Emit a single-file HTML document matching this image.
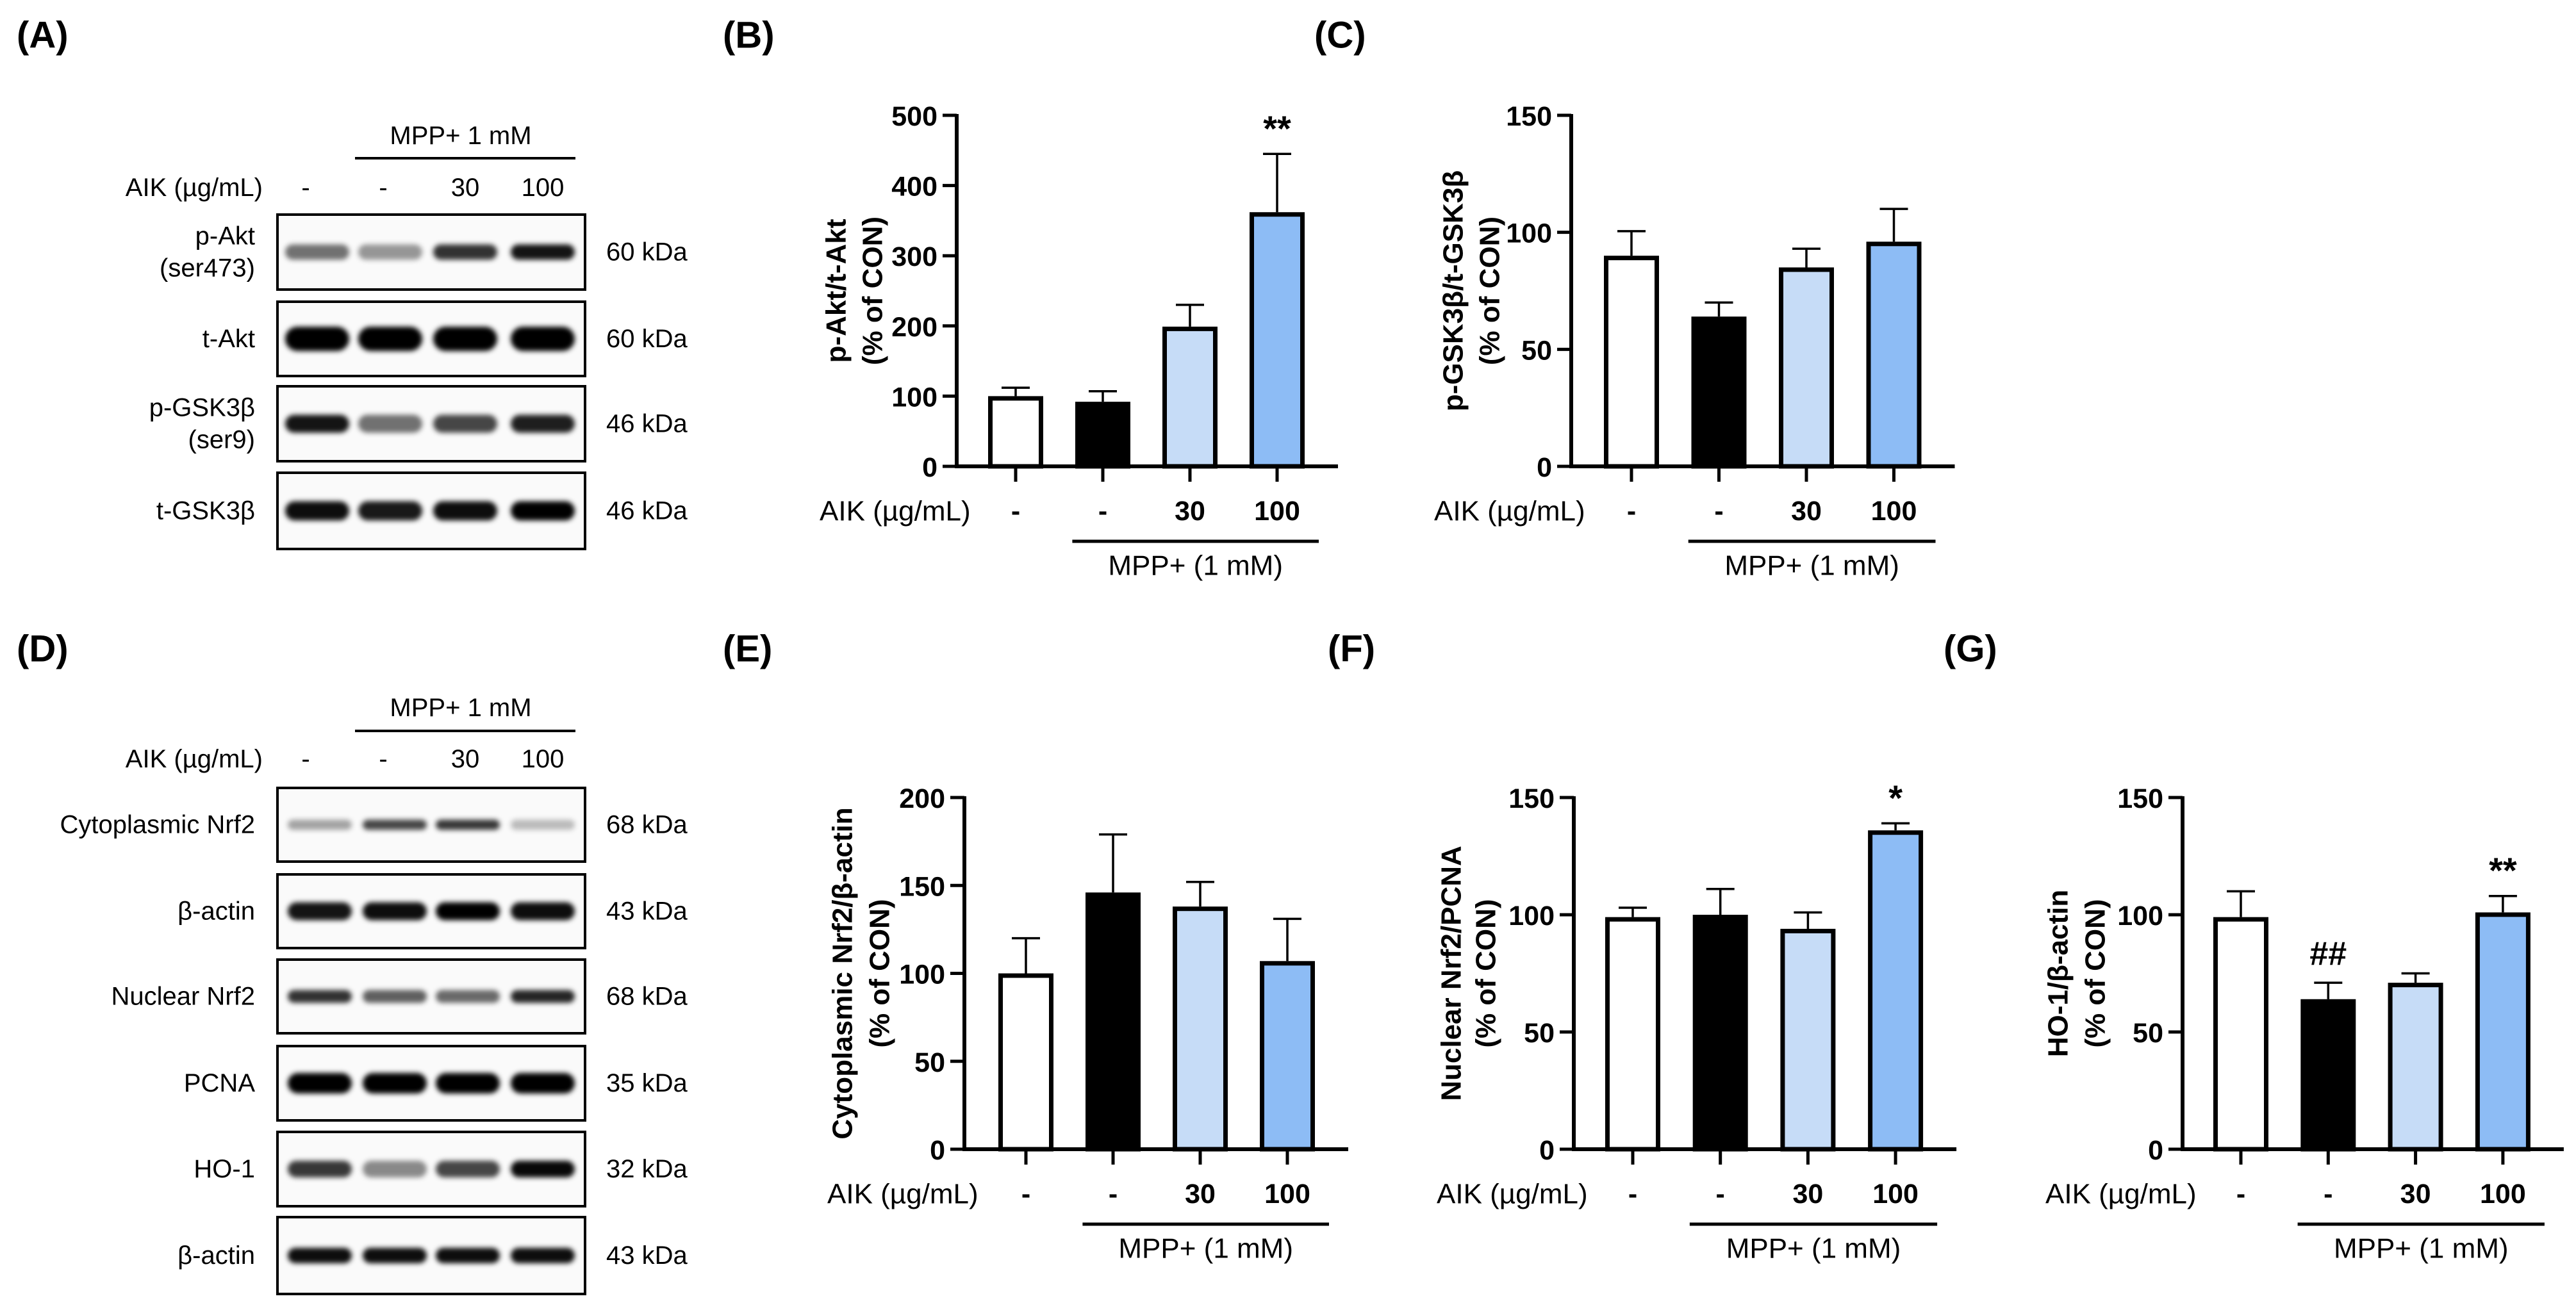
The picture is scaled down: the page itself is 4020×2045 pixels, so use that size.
<!DOCTYPE html>
<html><head><meta charset="utf-8"><style>
html,body{margin:0;padding:0;background:#fff}
svg{display:block}
text{font-family:"Liberation Sans",Arial,sans-serif;fill:#000}
.n{font-family:"Liberation Sans Narrow","Liberation Sans",sans-serif}
</style></head><body>
<svg id="fig" width="4020" height="2045" viewBox="0 0 4020 2045" xmlns="http://www.w3.org/2000/svg">
<defs><filter id="blur" x="-30%" y="-100%" width="160%" height="300%"><feGaussianBlur stdDeviation="4"/></filter></defs>
</svg>
<script>
// ---- data ----
const doseLabels = ['-', '-', '30', '100'];
const bVals = [100, 92, 199, 362];
const bSem = [12, 15, 31, 83];
const bTicks = [0, 100, 200, 300, 400, 500];
const cVals = [90, 64, 85, 96];
const cSem = [10.5, 6, 8, 14];
const cTicks = [0, 50, 100, 150];
const eVals = [100, 146, 138, 107];
const eSem = [20, 33, 14, 24];
const eTicks = [0, 50, 100, 150, 200];
const fVals = [99, 100, 94, 136];
const fSem = [4, 11, 7, 3];
const fTicks = [0, 50, 100, 150];
const gVals = [99, 64, 71, 101];
const gSem = [11, 7, 4, 7];
const gTicks = [0, 50, 100, 150];
const bSig = ['', '', '', '**'];
const cSig = ['', '', '', ''];
const eSig = ['', '', '', ''];
const fSig = ['', '', '', '*'];
const gSig = ['', '##', '', '**'];
// blot band intensities (0..1)
const blotA = [
  {label:['p-Akt','(ser473)'], kda:'60 kDa', inten:[0.55,0.4,0.8,0.92], h:24},
  {label:['t-Akt'], kda:'60 kDa', inten:[1,1,1,1], h:38},
  {label:['p-GSK3β','(ser9)'], kda:'46 kDa', inten:[0.92,0.55,0.72,0.88], h:28},
  {label:['t-GSK3β'], kda:'46 kDa', inten:[0.95,0.9,0.95,1], h:30}
];
const blotD = [
  {label:['Cytoplasmic Nrf2'], kda:'68 kDa', inten:[0.35,0.72,0.78,0.25], h:16},
  {label:['β-actin'], kda:'43 kDa', inten:[0.92,0.95,1,0.95], h:28},
  {label:['Nuclear Nrf2'], kda:'68 kDa', inten:[0.8,0.62,0.58,0.85], h:20},
  {label:['PCNA'], kda:'35 kDa', inten:[1,1,1,1], h:32},
  {label:['HO-1'], kda:'32 kDa', inten:[0.78,0.45,0.72,0.97], h:26},
  {label:['β-actin'], kda:'43 kDa', inten:[0.95,0.95,0.95,0.95], h:24}
];

const NS = 'http://www.w3.org/2000/svg';
const svg = document.getElementById('fig');
function mk(tag, attrs, parent){
  const e = document.createElementNS(NS, tag);
  for (const k in attrs) e.setAttribute(k, attrs[k]);
  (parent||svg).appendChild(e);
  return e;
}
function txt(x,y,s,size,opts,parent){
  const t = mk('text', Object.assign({x:x,y:y,'font-size':size,'dominant-baseline':'central'}, opts||{}), parent);
  t.textContent = s;
  return t;
}

// panel letters
[['(A)',26,55],['(B)',1128,55],['(C)',2051,55],['(D)',26,1013],['(E)',1128,1013],['(F)',2072,1013],['(G)',3033,1013]].forEach(p=>{
  const t = txt(p[1],p[2],p[0],58,{'font-weight':'bold'});
  
  
});

const fills = ['#ffffff', '#000000', '#c6dcf7', '#8dbcf5'];

function chart(cfg, vals, sems, ticks, sigs){
  const g = mk('g', {});
  
  
  const max = ticks[ticks.length-1];
  const y = v => cfg.base - v/max*(cfg.base-cfg.top);
  const xc = i => cfg.x0 + i*cfg.step;
  vals.forEach((v,i)=>{
    const eb = mk('g', {}, g);
    
    
    mk('line',{x1:xc(i),x2:xc(i),y1:y(v),y2:y(v+sems[i]),stroke:'#000','stroke-width':3.5},eb);
    mk('line',{x1:xc(i)-22,x2:xc(i)+22,y1:y(v+sems[i]),y2:y(v+sems[i]),stroke:'#000','stroke-width':3.5},eb);
    const r = mk('rect',{x:xc(i)-39.5,y:y(v)+3.5,width:79,height:Math.max(0,cfg.base-y(v)-3.5),fill:fills[i],stroke:'#000','stroke-width':7},g);
    
    
    if (sigs[i]) {
      const s = txt(xc(i), y(v+sems[i])-40, sigs[i], sigs[i]==='##'?52:56, {'text-anchor':'middle','font-weight':'bold'}, g);
      if (sigs[i]==='##') s.setAttribute('y', y(v+sems[i]) - 45);
      
      
    }
  });
  const ya = mk('g', {}, g);
  
  
  mk('line',{x1:cfg.ax,x2:cfg.ax,y1:cfg.top-2,y2:cfg.base+3,stroke:'#000','stroke-width':6},ya);
  ticks.forEach(t=>{
    mk('line',{x1:cfg.ax-22,x2:cfg.ax,y1:y(t),y2:y(t),stroke:'#000','stroke-width':5},ya);
    const tl = txt(cfg.ax-30, y(t)+2, String(t), 43, {'text-anchor':'end','font-weight':'bold'}, ya);
    
    
  });
  const xa = mk('g', {}, g);
  
  
  mk('line',{x1:cfg.ax-3,x2:xc(3)+95,y1:cfg.base,y2:cfg.base,stroke:'#000','stroke-width':6},xa);
  doseLabels.forEach((d,i)=>{
    mk('line',{x1:xc(i),x2:xc(i),y1:cfg.base,y2:cfg.base+24,stroke:'#000','stroke-width':5},xa);
    const tl = txt(xc(i), cfg.base+70, d, 43, {'text-anchor':'middle','font-weight':'bold'}, xa);
    
    
  });
  const al = txt(cfg.ax-214, cfg.base+70, 'AIK (µg/mL)', 44, {}, xa);
  
  
  mk('line',{x1:xc(0)+cfg.step*0.65,x2:xc(3)+65,y1:cfg.base+117,y2:cfg.base+117,stroke:'#000','stroke-width':5},xa);
  const ml = txt((xc(0)+cfg.step*0.65+xc(3)+65)/2, cfg.base+155, 'MPP+ (1 mM)', 44, {'text-anchor':'middle'}, xa);
  
  
  const mid = (cfg.top+cfg.base)/2;
  const yt = mk('g', {}, g);
  
  
  [[cfg.t1x,cfg.title[0]],[cfg.t2x,cfg.title[1]]].forEach(p=>{
    txt(p[0], mid, p[1], 44, {'text-anchor':'middle','font-weight':'bold',transform:'rotate(-90 '+p[0]+' '+mid+')'}, yt);
  });
}

chart({name:'chart-b-pakt',ax:1493,top:180,base:728,x0:1585,step:136,t1x:1305,t2x:1362,title:['p-Akt/t-Akt','(%  of CON)']}, bVals, bSem, bTicks, bSig);
chart({name:'chart-c-pgsk3b',ax:2452,top:180,base:728,x0:2546,step:136.5,t1x:2268,t2x:2325,title:['p-GSK3β/t-GSK3β','(%  of CON)']}, cVals, cSem, cTicks, cSig);
chart({name:'chart-e-cyto-nrf2',ax:1505,top:1245,base:1794,x0:1601,step:136,t1x:1315,t2x:1373,title:['Cytoplasmic Nrf2/β-actin','(% of CON)']}, eVals, eSem, eTicks, eSig);
chart({name:'chart-f-nuclear-nrf2',ax:2456,top:1245,base:1794,x0:2548,step:136.7,t1x:2265,t2x:2319,title:['Nuclear Nrf2/PCNA','(% of CON)']}, fVals, fSem, fTicks, fSig);
chart({name:'chart-g-ho1',ax:3406,top:1245,base:1794,x0:3497,step:136.3,t1x:3212,t2x:3270,title:['HO-1/β-actin','(%  of CON)']}, gVals, gSem, gTicks, gSig);

function blot(name, rows, boxes, lanes, hdr){
  const g = mk('g', {});
  
  
  const h1 = txt(719, hdr.mppY, 'MPP+ 1 mM', 40, {'text-anchor':'middle',class:'n'}, g);
  
  
  mk('line',{x1:554,x2:898,y1:hdr.lineY,y2:hdr.lineY,stroke:'#000','stroke-width':4},g);
  const h2 = txt(410, hdr.aikY, 'AIK (µg/mL)', 40, {'text-anchor':'end',class:'n'}, g);
  
  
  ['-','-','30','100'].forEach((d,i)=>{
    txt([477,598,726,847][i], hdr.aikY, d, 40, {'text-anchor':'middle',class:'n'}, g);
  });
  rows.forEach((r,k)=>{
    const b = boxes[k];
    const row = mk('g', {}, g);
    
    
    mk('rect',{x:433,y:b[0],width:480,height:b[1]-b[0],fill:'#fafafa',stroke:'#000','stroke-width':4},row);
    const cy = (b[0]+b[1])/2;
    r.inten.forEach((v,i)=>{
      mk('rect',{x:lanes[i]-50,y:cy-r.h/2,width:100,height:r.h,rx:r.h/2,fill:'#000','fill-opacity':v,filter:'url(#blur)'},row);
    });
    if (r.label.length===2){
      txt(398, cy-25, r.label[0], 40, {'text-anchor':'end',class:'n'}, row);
      txt(398, cy+25, r.label[1], 40, {'text-anchor':'end',class:'n'}, row);
    } else {
      txt(398, cy, r.label[0], 40, {'text-anchor':'end',class:'n'}, row);
    }
    txt(946, cy, r.kda, 40, {class:'n'}, row);
  });
}
blot('western-blot-a', blotA, [[335,452],[471,587],[603,720],[738,857]], [495,609,726,847], {mppY:212,lineY:247,aikY:293});
blot('western-blot-d', blotD, [[1230,1345],[1365,1480],[1498,1613],[1633,1749],[1767,1883],[1900,2020]], [499,616,730,847], {mppY:1105,lineY:1141,aikY:1185});
</script>
</body></html>
